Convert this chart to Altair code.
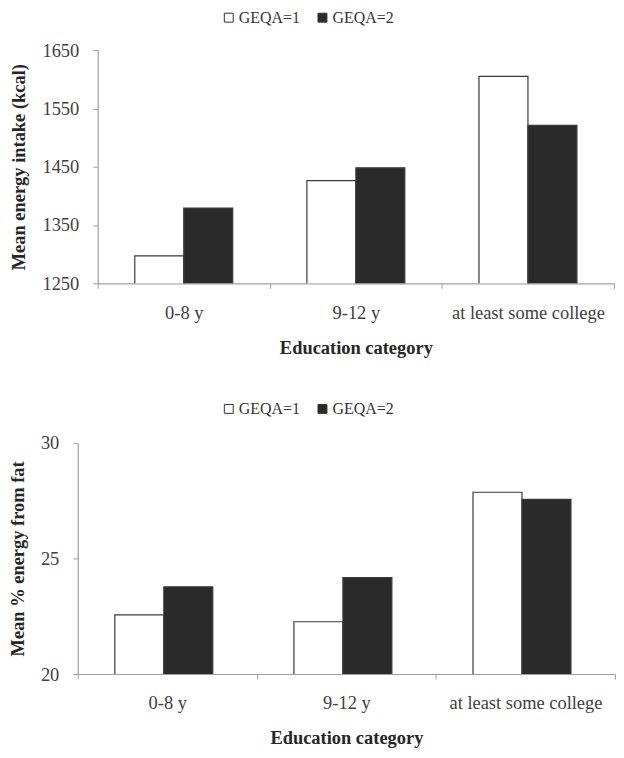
import altair as alt
import pandas as pd

categories = ["0-8 y", "9-12 y", "at least some college"]
groups = ["GEQA=1", "GEQA=2"]
energy_g1 = [1297, 1426, 1605]
energy_g2 = [1379, 1448, 1521]
fat_g1 = [22.56, 22.26, 27.86]
fat_g2 = [23.77, 24.17, 27.55]

energy_ticks = [1250, 1350, 1450, 1550, 1650]
fat_ticks = [20, 25, 30]


def make_df(g1, g2):
    rows = []
    for c, a, b in zip(categories, g1, g2):
        rows.append({"category": c, "group": groups[0], "value": a})
        rows.append({"category": c, "group": groups[1], "value": b})
    return pd.DataFrame(rows)


FONT = "Liberation Serif"


def panel(df, ytitle, domain, ticks, width, height, lx, ly, inset=0):
    xscale = alt.Scale(paddingInner=0, paddingOuter=0)
    if inset:
        xscale = alt.Scale(paddingInner=0, paddingOuter=0, range=[inset, width])
    return alt.Chart(df).mark_bar(stroke="#3a3a3a", strokeWidth=1.2, clip=True).encode(
        x=alt.X(
            "category:N",
            sort=categories,
            scale=xscale,
            axis=alt.Axis(
                title="Education category",
                labelAngle=0,
                tickBand="extent",
                tickSize=5,
                labelPadding=15,
                titlePadding=16.5,
            ),
        ),
        xOffset=alt.XOffset(
            "group:N", sort=groups, scale=alt.Scale(paddingInner=0, paddingOuter=0.757)
        ),
        y=alt.Y(
            "value:Q",
            scale=alt.Scale(domain=domain, nice=False, zero=False),
            axis=alt.Axis(
                title=ytitle,
                values=ticks,
                format="d",
                grid=False,
                tickSize=5,
                labelPadding=14,
                titlePadding=13,
                offset=-inset,
            ),
        ),
        color=alt.Color(
            "group:N",
            scale=alt.Scale(domain=groups, range=["#ffffff", "#2a2a2a"]),
            legend=alt.Legend(
                title=None,
                orient="none",
                legendX=lx,
                legendY=ly,
                direction="horizontal",
                symbolType="square",
                symbolSize=80,
                symbolStrokeColor="#333333",
                symbolStrokeWidth=1,
                labelFont=FONT,
                labelFontSize=16,
                labelColor="#333333",
                labelOffset=2,
                columnPadding=14,
                padding=0,
            ),
        ),
    ).properties(width=width, height=height)


top = panel(make_df(energy_g1, energy_g2), "Mean energy intake (kcal)",
            [1250, 1650], energy_ticks, 538, 234, 143.5, -40.5, inset=20)
bottom = panel(make_df(fat_g1, fat_g2), "Mean % energy from fat",
               [20, 30], fat_ticks, 539, 232, 143.5, -42)

chart = alt.vconcat(top, bottom, spacing=44).resolve_legend(
    color="independent"
).resolve_scale(color="independent").properties(
    padding={"left": 0, "top": 0, "right": 0, "bottom": 0}
).configure_view(stroke=None).configure_axis(
    labelFont=FONT,
    labelFontSize=18.5,
    labelColor="#404040",
    titleFont=FONT,
    titleFontSize=18.5,
    titleFontWeight="bold",
    titleColor="#262626",
    domainColor="#a0a0a0",
    tickColor="#a0a0a0",
    domainWidth=1.2,
)

chart.save("out.html", embed_options={"renderer": "svg", "actions": False})
